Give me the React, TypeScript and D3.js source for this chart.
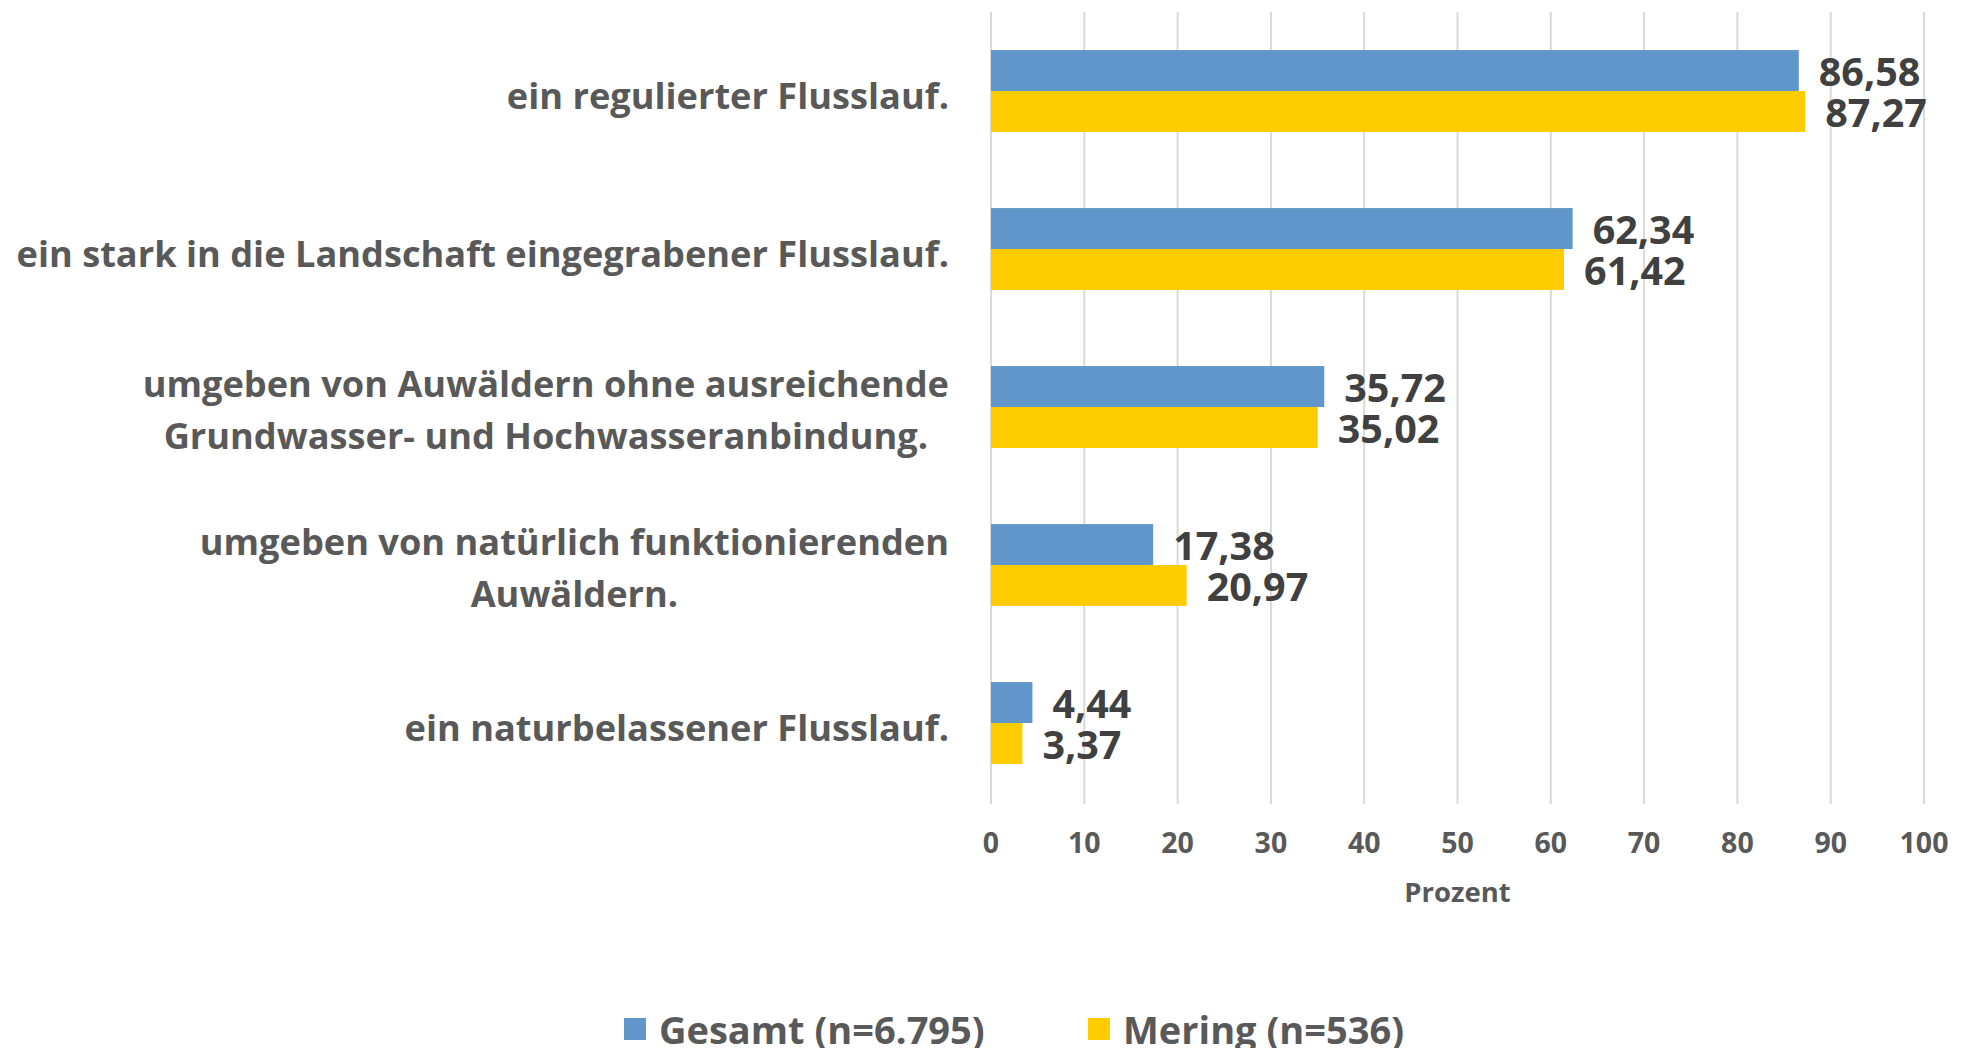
import React from "react";
import * as d3 from "d3";

const categories = [
  ["ein regulierter Flusslauf."],
  ["ein stark in die Landschaft eingegrabener Flusslauf."],
  ["umgeben von Auwäldern ohne ausreichende", "Grundwasser- und Hochwasseranbindung."],
  ["umgeben von natürlich funktionierenden", "Auwäldern."],
  ["ein naturbelassener Flusslauf."],
];
const seriesNames = ["Gesamt (n=6.795)", "Mering (n=536)"];
const gesamt = [86.58, 62.34, 35.72, 17.38, 4.44];
const mering = [87.27, 61.42, 35.02, 20.97, 3.37];
const ticks = [0, 10, 20, 30, 40, 50, 60, 70, 80, 90, 100];
const colors = ["#6096c9", "#ffcc00"];

const W = 1970;
const H = 1048;
const FONT = "'Open Sans', Lato, sans-serif";

export default function App() {
  const x = d3.scaleLinear().domain([0, 100]).range([991, 1924]);
  const keys = categories.map((_, i) => String(i));
  const y = d3.scaleBand().domain(keys).range([12, 802]).paddingInner(0).paddingOuter(0);
  const yi = d3
    .scaleBand()
    .domain(["0", "1"])
    .range([0, y.bandwidth()])
    .paddingInner(0)
    .paddingOuter(0.93);
  const series = [gesamt, mering];
  const fmt = (v: number) => v.toFixed(2).replace(".", ",");
  const labelX = 949;
  const lineH = 52;

  return (
    <svg
      width={W}
      height={H}
      style={{ position: "absolute", left: 0, top: 0, display: "block", background: "#fff" }}
      fontFamily={FONT}
      fontWeight="bold"
    >
      {ticks.map((t) => (
        <line key={"g" + t} x1={x(t)} x2={x(t)} y1={12} y2={804} stroke="#d9d9d9" strokeWidth={2} />
      ))}
      {keys.map((k, ci) =>
        series.map((s, si) => (
          <rect
            key={k + "-" + si}
            x={x(0)}
            y={(y(k) as number) + (yi(String(si)) as number)}
            width={x(s[ci]) - x(0)}
            height={yi.bandwidth()}
            fill={colors[si]}
          />
        ))
      )}
      {keys.map((k, ci) =>
        series.map((s, si) => (
          <text
            key={"l" + k + "-" + si}
            x={x(s[ci]) + 20}
            y={(y(k) as number) + (yi(String(si)) as number) + yi.bandwidth() / 2 + 5}
            dominantBaseline="middle"
            fontSize={39.5}
            fill="#404040"
          >
            {fmt(s[ci])}
          </text>
        ))
      )}
      {categories.map((lines, ci) => {
        const n = lines.length;
        const cy = (y(keys[ci]) as number) + y.bandwidth() / 2 + (n === 1 ? 8 : 6);
        return (
          <g key={"c" + ci}>
            {lines.map((ln, li) => (
              <text
                key={li}
                x={labelX}
                y={cy + (li - (n - 1) / 2) * lineH}
                dominantBaseline="middle"
                textAnchor="end"
                fontSize={36.2}
                fill="#595959"
                ref={(el) => {
                  if (!el || n === 1) return;
                  const parent = el.parentNode as SVGGElement;
                  const all = Array.from(parent.querySelectorAll("text")) as SVGTextElement[];
                  const widths = all.map((t) => t.getComputedTextLength());
                  const maxW = Math.max(...widths);
                  all.forEach((t) => {
                    t.setAttribute("text-anchor", "middle");
                    t.setAttribute("x", String(labelX - maxW / 2));
                  });
                }}
              >
                {ln}
              </text>
            ))}
          </g>
        );
      })}
      {ticks.map((t) => (
        <text
          key={"t" + t}
          x={x(t)}
          y={845}
          textAnchor="middle"
          dominantBaseline="middle"
          fontSize={28.5}
          fill="#595959"
        >
          {t}
        </text>
      ))}
      <text x={x(50)} y={895} textAnchor="middle" dominantBaseline="middle" fontSize={27.5} fill="#595959">
        Prozent
      </text>
      {seriesNames.map((name, si) => {
        const lx = [624, 1088][si];
        return (
          <g key={"lg" + si}>
            <rect x={lx} y={1018} width={22} height={22} fill={colors[si]} />
            <text x={lx + 35} y={1044} fontSize={38} fill="#595959">
              {name}
            </text>
          </g>
        );
      })}
    </svg>
  );
}
